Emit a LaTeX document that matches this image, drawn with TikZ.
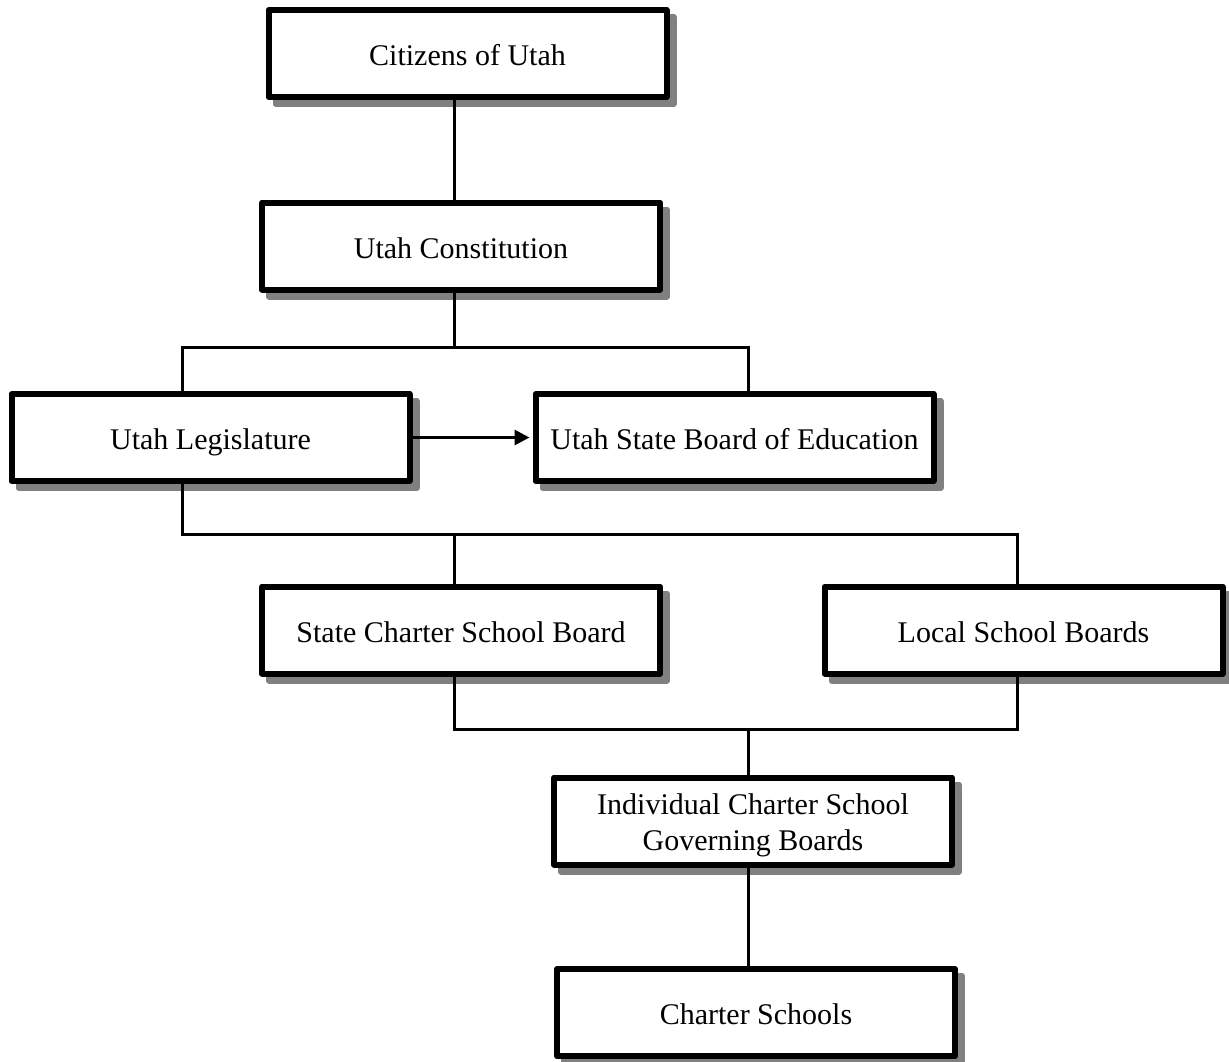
\documentclass[tikz,border=0pt]{standalone}
\usepackage{fontspec}
\setmainfont{Liberation Serif}
\usetikzlibrary{shadows,arrows.meta}
\begin{document}
\begin{tikzpicture}[x=1pt,y=-1pt,
  orgbox/.style={draw=black, line width=6pt, line join=round, fill=white,
    minimum width=398pt, minimum height=87pt, inner sep=0pt, align=center,
    font=\fontsize{30}{36}\selectfont, text height=24.5pt, text depth=0pt,
    drop shadow={shadow xshift=7pt, shadow yshift=-7pt, fill=gray, draw=gray, line width=6pt, line join=round, opacity=1}},
  conn/.style={draw=black, line width=3pt}]
\useasboundingbox (0,0) rectangle (1229,1061);
\node[orgbox] (cit) at (467.5,53.5) {Citizens of Utah};
\node[orgbox] (con) at (461,246) {Utah Constitution};
\node[orgbox] (leg) at (210.5,437.5) {Utah Legislature};
\node[orgbox] (usb) at (734.5,437.5) {Utah State Board of Education};
\node[orgbox] (scb) at (461,630) {State Charter School Board};
\node[orgbox] (lsb) at (1023.5,630) {Local School Boards};
\node[orgbox, text height=58pt] (icg) at (753,821) {Individual Charter School\\Governing Boards};
\node[orgbox] (chs) at (756,1012.5) {Charter Schools};
% junction coordinates
\coordinate (j1) at (454,347);
\coordinate (j2) at (182,534);
\coordinate (j3) at (748,729);
\draw[conn] (cit.south -| j1) -- (con.north -| j1);
\draw[conn] (con.south -| j1) -- (j1);
\draw[conn] (leg.north -| j2) |- (j1) -| (usb.north -| j3);
\draw[conn, -{Triangle[length=15pt,width=15pt]}, shorten >=3pt] (leg.east) -- (usb.west);
\draw[conn] (leg.south -| j2) -- (j2) -| (lsb.north -| 1017,0);
\draw[conn] (usb.south -| j3) -- (usb.south -| j3 |- j2);
\draw[conn] (scb.north -| j1) -- (j2 -| j1);
\draw[conn] (scb.south -| j1) |- (j3) -| (lsb.south -| 1017,0);
\draw[conn] (j3) -- (icg.north -| j3);
\draw[conn] (icg.south -| j3) -- (chs.north -| j3);
\end{tikzpicture}
\end{document}
